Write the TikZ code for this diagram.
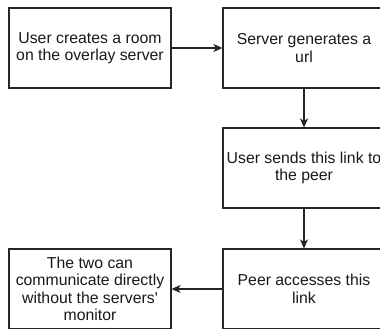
\documentclass[tikz,border=0pt]{standalone}
\usepackage{fontspec}
\setmainfont{Liberation Sans}
\usetikzlibrary{arrows.meta}
\begin{document}
\begin{tikzpicture}[x=1pt,y=-1pt,
  stepbox/.style={draw=black!85, line width=1.1pt, fill=white, minimum width=162pt, minimum height=80pt,
    inner sep=0pt, align=center, font=\fontsize{15.8}{17.5}\selectfont, text=black!90},
  flow/.style={draw=black!85, line width=1.1pt, -{Stealth[length=9pt,width=8pt,inset=2.5pt]}}]
  \useasboundingbox (0,0) rectangle (380,329);
  \clip (0,0) rectangle (380,329);
  \node[stepbox] (create) at (90,48) {User creates a room\\on the overlay server};
  \node[stepbox] (gen) at (304,48) {Server generates a\\url};
  \node[stepbox] (send) at (304,168) {User sends this link to\\the peer};
  \node[stepbox] (access) at (304,289) {Peer accesses this\\link};
  \node[stepbox] (talk) at (90,289) {The two can\\communicate directly\\without the servers\textquotesingle\\monitor};
  \draw[flow] (create) -- (gen);
  \draw[flow] (gen) -- (send);
  \draw[flow] (send) -- (access);
  \draw[flow] (access) -- (talk);
\end{tikzpicture}
\end{document}
